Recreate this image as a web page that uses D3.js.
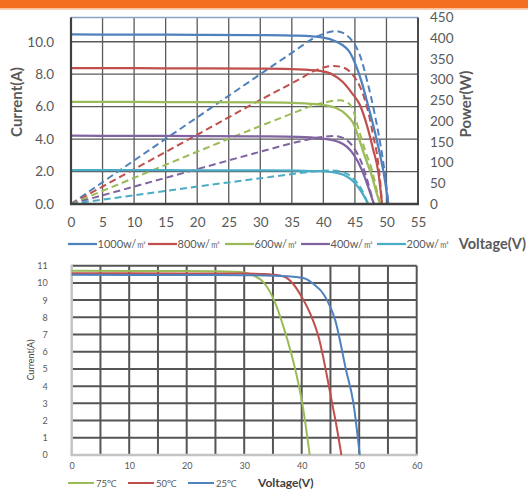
<!DOCTYPE html>
<html><head><meta charset="utf-8">
<script src="https://cdn.jsdelivr.net/npm/d3@7"></script>
<style>
html,body{margin:0;padding:0;background:#fff;}
svg{display:block;font-family:Lato,"Noto Sans",sans-serif;}
</style></head>
<body>
<svg id="c" width="528" height="489"></svg>
<script>
// ---------- Top chart data (irradiance) ----------
const irrLabels = ["1000w/㎡","800w/㎡","600w/㎡","400w/㎡","200w/㎡"];
const irrColors = ["#4F81BD","#C0504D","#9BBB59","#8064A2","#4BACC6"];

const v1000 = [0,10,20,30,36,40,42,43,44,45,46,47,48,49,49.7,50.3];
const i1000 = [10.45,10.44,10.43,10.41,10.37,10.25,10.02,9.80,9.45,8.70,7.60,6.20,4.70,3.00,1.60,0];
const v800  = [0,10,20,30,36,39.5,41.5,43,44.5,45.8,46.9,47.9,48.7,49.3];
const i800  = [8.38,8.37,8.36,8.34,8.30,8.20,7.97,7.55,6.85,6.10,4.85,3.35,2.00,0];
const v600  = [0,10,20,30,36,39.5,42,43.5,44.7,45.5,46.6,47.7,48.5,49.0];
const i600  = [6.30,6.29,6.28,6.26,6.22,6.12,5.92,5.55,5.00,4.20,2.90,1.70,0.60,0];
const v400  = [0,10,20,30,36,39.5,42.6,44.7,46.1,47.1,48.0];
const i400  = [4.21,4.20,4.19,4.17,4.14,4.05,3.80,3.10,2.10,1.05,0];
const v200  = [0,10,20,30,36,39.5,42.6,44.7,46.1,47.1];
const i200  = [2.09,2.085,2.08,2.07,2.05,2.02,1.87,1.40,0.72,0];

const pv1000 = [0,10,20,30,36,38,40,41.8,43.2,44.2,45.3,46.1,46.8,47.5,48.2,48.8,49.4,49.9,50.3];
const p1000  = [0,105,209,313,375,396,410,417,412,400,376,345,305,262,212,165,110,55,0];
const pv800  = [0,10,20,30,36.3,38.4,40,41.6,43.2,44.7,45.8,46.6,47.3,47.9,48.7,49.0,49.3];
const p800   = [0,84,167,251,302,320,329,333,329,311,283,250,210,165,98,55,0];
const pv600  = [0,10,20,30,36,38,40,42.5,43.8,44.7,45.5,46.6,47.7,48.7,49.0];
const p600   = [0,63,126,188,224,236,244,250,245,227,185,130,82,18,0];
const pv400  = [0,10,20,30,36,39.5,41.5,43,44.7,46.1,47.1,48.0];
const p400   = [0,42,84,126,150,161,164,160,138,98,50,0];
const pv200  = [0,10,20,30,36,39.5,41,42.6,44.7,46.1,47.1];
const p200   = [0,21,42,62,74,80,81,79,62,34,0];

const xTicksTop = [0,5,10,15,20,25,30,35,40,45,50,55];
const yTicksLeft = [0,2,4,6,8,10];
const yTicksRight = [0,50,100,150,200,250,300,350,400,450];

// ---------- Bottom chart data (temperature) ----------
const tempLabels = ["75℃","50℃","25℃"];
const tempColors = ["#9BBB59","#C0504D","#4F81BD"];
const v75 = [0,20,25,28,30,31.5,33.5,35.3,36.9,39.0,40.1,41.4];
const i75 = [10.70,10.69,10.68,10.65,10.60,10.45,9.98,8.91,7.37,4.80,3.00,0];
const v50 = [0,20,30,33,35,36.9,38.5,39.8,41.5,43.0,44.3,45.3,46.1,46.9];
const i50 = [10.56,10.55,10.54,10.52,10.48,10.37,9.95,9.30,8.20,6.78,4.75,3.00,1.60,0];
const v25 = [0,20,30,35,38,40.4,42,43.9,45.9,47.7,49.0,50.1];
const i25 = [10.47,10.46,10.45,10.42,10.37,10.27,9.95,9.30,7.75,4.95,3.00,0];
const xTicksBottom = [0,10,20,30,40,50,60];
const xGridBottom = [0,5,10,15,20,25,30,35,40,45,50,55,60];
const yTicksBottom = [0,1,2,3,4,5,6,7,8,9,10,11];

const zip = (a,b)=>a.map((v,k)=>[v,b[k]]);
const svg = d3.select("#c");
const txt = "#595959";

// header bar
svg.append("rect").attr("x",0).attr("y",0).attr("width",528).attr("height",8.5).attr("fill","#F37021");
svg.append("rect").attr("x",0).attr("y",8.5).attr("width",528).attr("height",1.5).attr("fill","#FBD0B2");

// ================= TOP CHART =================
const x1 = d3.scaleLinear().domain([0,55]).range([71,418]);
const yL = d3.scaleLinear().domain([0,11.5]).range([204,17.4]);
const yR = d3.scaleLinear().domain([0,450]).range([204,17.4]);
const g1 = svg.append("g");

// grid
g1.selectAll(".vg").data(xTicksTop.slice(1,-1)).join("line")
  .attr("x1",d=>x1(d)).attr("x2",d=>x1(d)).attr("y1",yL(11.5)).attr("y2",yL(0))
  .attr("stroke","#5a5a5a").attr("stroke-width",1.3);
g1.selectAll(".hg").data(yTicksLeft.slice(1)).join("line")
  .attr("x1",x1(0)).attr("x2",x1(55)).attr("y1",d=>yL(d)).attr("y2",d=>yL(d))
  .attr("stroke","#5a5a5a").attr("stroke-width",1.3);
// borders
g1.append("line").attr("x1",x1(0)).attr("x2",x1(55)).attr("y1",yL(11.5)).attr("y2",yL(11.5))
  .attr("stroke","#8aa4c6").attr("stroke-width",1.5);
g1.append("line").attr("x1",x1(55)).attr("x2",x1(55)).attr("y1",yL(11.5)).attr("y2",yL(0))
  .attr("stroke","#4a4a4a").attr("stroke-width",2);

const line1 = d3.line().x(d=>x1(d[0])).y(d=>yL(d[1])).curve(d3.curveMonotoneX);
const lineP = d3.line().x(d=>x1(d[0])).y(d=>yR(d[1])).curve(d3.curveMonotoneX);
const ivSets = [zip(v1000,i1000),zip(v800,i800),zip(v600,i600),zip(v400,i400),zip(v200,i200)];
const pSets = [zip(pv1000,p1000),zip(pv800,p800),zip(pv600,p600),zip(pv400,p400),zip(pv200,p200)];

g1.selectAll(".pw").data(pSets).join("path")
  .attr("d",lineP).attr("fill","none").attr("stroke",(d,k)=>irrColors[k])
  .attr("stroke-width",2).attr("stroke-dasharray","7,4");
g1.selectAll(".iv").data(ivSets).join("path")
  .attr("d",line1).attr("fill","none").attr("stroke",(d,k)=>irrColors[k])
  .attr("stroke-width",2.25);

// axis lines
g1.append("line").attr("x1",x1(0)).attr("x2",x1(0)).attr("y1",yL(11.5)).attr("y2",yL(0)+1)
  .attr("stroke","#404040").attr("stroke-width",2.2);
g1.append("line").attr("x1",x1(0)-1).attr("x2",x1(55)+1).attr("y1",yL(0)).attr("y2",yL(0))
  .attr("stroke","#404040").attr("stroke-width",2.4);

// tick labels
const axL = g1.append("g").attr("transform",`translate(${x1(0)},0)`)
  .call(d3.axisLeft(yL).tickValues(yTicksLeft).tickFormat(d3.format(".1f")).tickSize(0).tickPadding(17));
const axR = g1.append("g").attr("transform",`translate(${x1(55)},0)`)
  .call(d3.axisRight(yR).tickValues(yTicksRight).tickSize(0).tickPadding(12));
const axB = g1.append("g").attr("transform",`translate(0,${yL(0)})`)
  .call(d3.axisBottom(x1).tickValues(xTicksTop).tickSize(0).tickPadding(13));
[axL,axR,axB].forEach(a=>{a.select(".domain").remove();
  a.selectAll("text").attr("fill",txt).style("font-size","13.5px").style("font-family","Lato, sans-serif");});

g1.append("text").attr("transform","translate(22,102) rotate(-90)").attr("text-anchor","middle")
  .attr("fill",txt).style("font-size","15px").style("font-weight","bold").text("Current(A)");
g1.append("text").attr("transform","translate(471,104) rotate(-90)").attr("text-anchor","middle")
  .attr("fill",txt).style("font-size","15px").style("font-weight","bold").text("Power(W)");

// legend top
const legTopX = [68,148,225,301,377];
const lg1 = g1.selectAll(".lg").data(irrLabels).join("g").attr("transform",(d,k)=>`translate(${legTopX[k]},244)`);
lg1.append("line").attr("x1",0).attr("x2",29).attr("y1",0).attr("y2",0)
  .attr("stroke",(d,k)=>irrColors[k]).attr("stroke-width",2.25);
lg1.append("text").attr("x",29.5).attr("y",4).attr("fill",txt).style("font-size","11px").text(d=>d);
g1.append("text").attr("x",526).attr("y",249).attr("text-anchor","end").attr("fill",txt)
  .style("font-size","14.5px").style("font-weight","bold").text("Voltage(V)");

// ================= BOTTOM CHART =================
const x2 = d3.scaleLinear().domain([0,60]).range([71.7,416.7]);
const y2 = d3.scaleLinear().domain([0,11]).range([455,265.7]);
const g2 = svg.append("g");

g2.selectAll(".vg2").data(xGridBottom.slice(1)).join("line")
  .attr("x1",d=>x2(d)).attr("x2",d=>x2(d)).attr("y1",y2(11)).attr("y2",y2(0))
  .attr("stroke","#555").attr("stroke-width",2);
g2.selectAll(".hg2").data(yTicksBottom.slice(1)).join("line")
  .attr("x1",x2(0)).attr("x2",x2(60)).attr("y1",d=>y2(d)).attr("y2",d=>y2(d))
  .attr("stroke","#555").attr("stroke-width",2);
g2.append("line").attr("x1",x2(0)).attr("x2",x2(0)).attr("y1",y2(11)-1).attr("y2",y2(0)+1)
  .attr("stroke","#c4c4c4").attr("stroke-width",2.5);
g2.append("line").attr("x1",x2(0)-1).attr("x2",x2(60)+1).attr("y1",y2(0)).attr("y2",y2(0))
  .attr("stroke","#c4c4c4").attr("stroke-width",2.5);

const line2 = d3.line().x(d=>x2(d[0])).y(d=>y2(d[1])).curve(d3.curveMonotoneX);
const tSets = [zip(v75,i75),zip(v50,i50),zip(v25,i25)];
g2.selectAll(".tc").data(tSets).join("path")
  .attr("d",line2).attr("fill","none").attr("stroke",(d,k)=>tempColors[k]).attr("stroke-width",2);

const axL2 = g2.append("g").attr("transform",`translate(${x2(0)},0)`)
  .call(d3.axisLeft(y2).tickValues(yTicksBottom).tickSize(0).tickPadding(24));
const axB2 = g2.append("g").attr("transform",`translate(0,${y2(0)})`)
  .call(d3.axisBottom(x2).tickValues(xTicksBottom).tickSize(0).tickPadding(8));
[axL2,axB2].forEach(a=>{a.select(".domain").remove();
  a.selectAll("text").attr("fill",txt).style("font-size","9px").style("font-family","Lato, sans-serif");});

g2.append("text").attr("transform","translate(34,360) rotate(-90)").attr("text-anchor","middle")
  .attr("fill","#404040").style("font-size","9px").text("Current(A)");

const legBotX = [68,128,188];
const lg2 = g2.selectAll(".lg2").data(tempLabels).join("g").attr("transform",(d,k)=>`translate(${legBotX[k]},483)`);
lg2.append("line").attr("x1",0).attr("x2",26).attr("y1",0).attr("y2",0)
  .attr("stroke",(d,k)=>tempColors[k]).attr("stroke-width",2);
lg2.append("text").attr("x",28).attr("y",3.5).attr("fill",txt).style("font-size","9.5px").text(d=>d);
g2.append("text").attr("x",258).attr("y",486.5).attr("fill","#404040")
  .style("font-size","12px").style("font-weight","bold").text("Voltage(V)");
</script>
</body></html>
